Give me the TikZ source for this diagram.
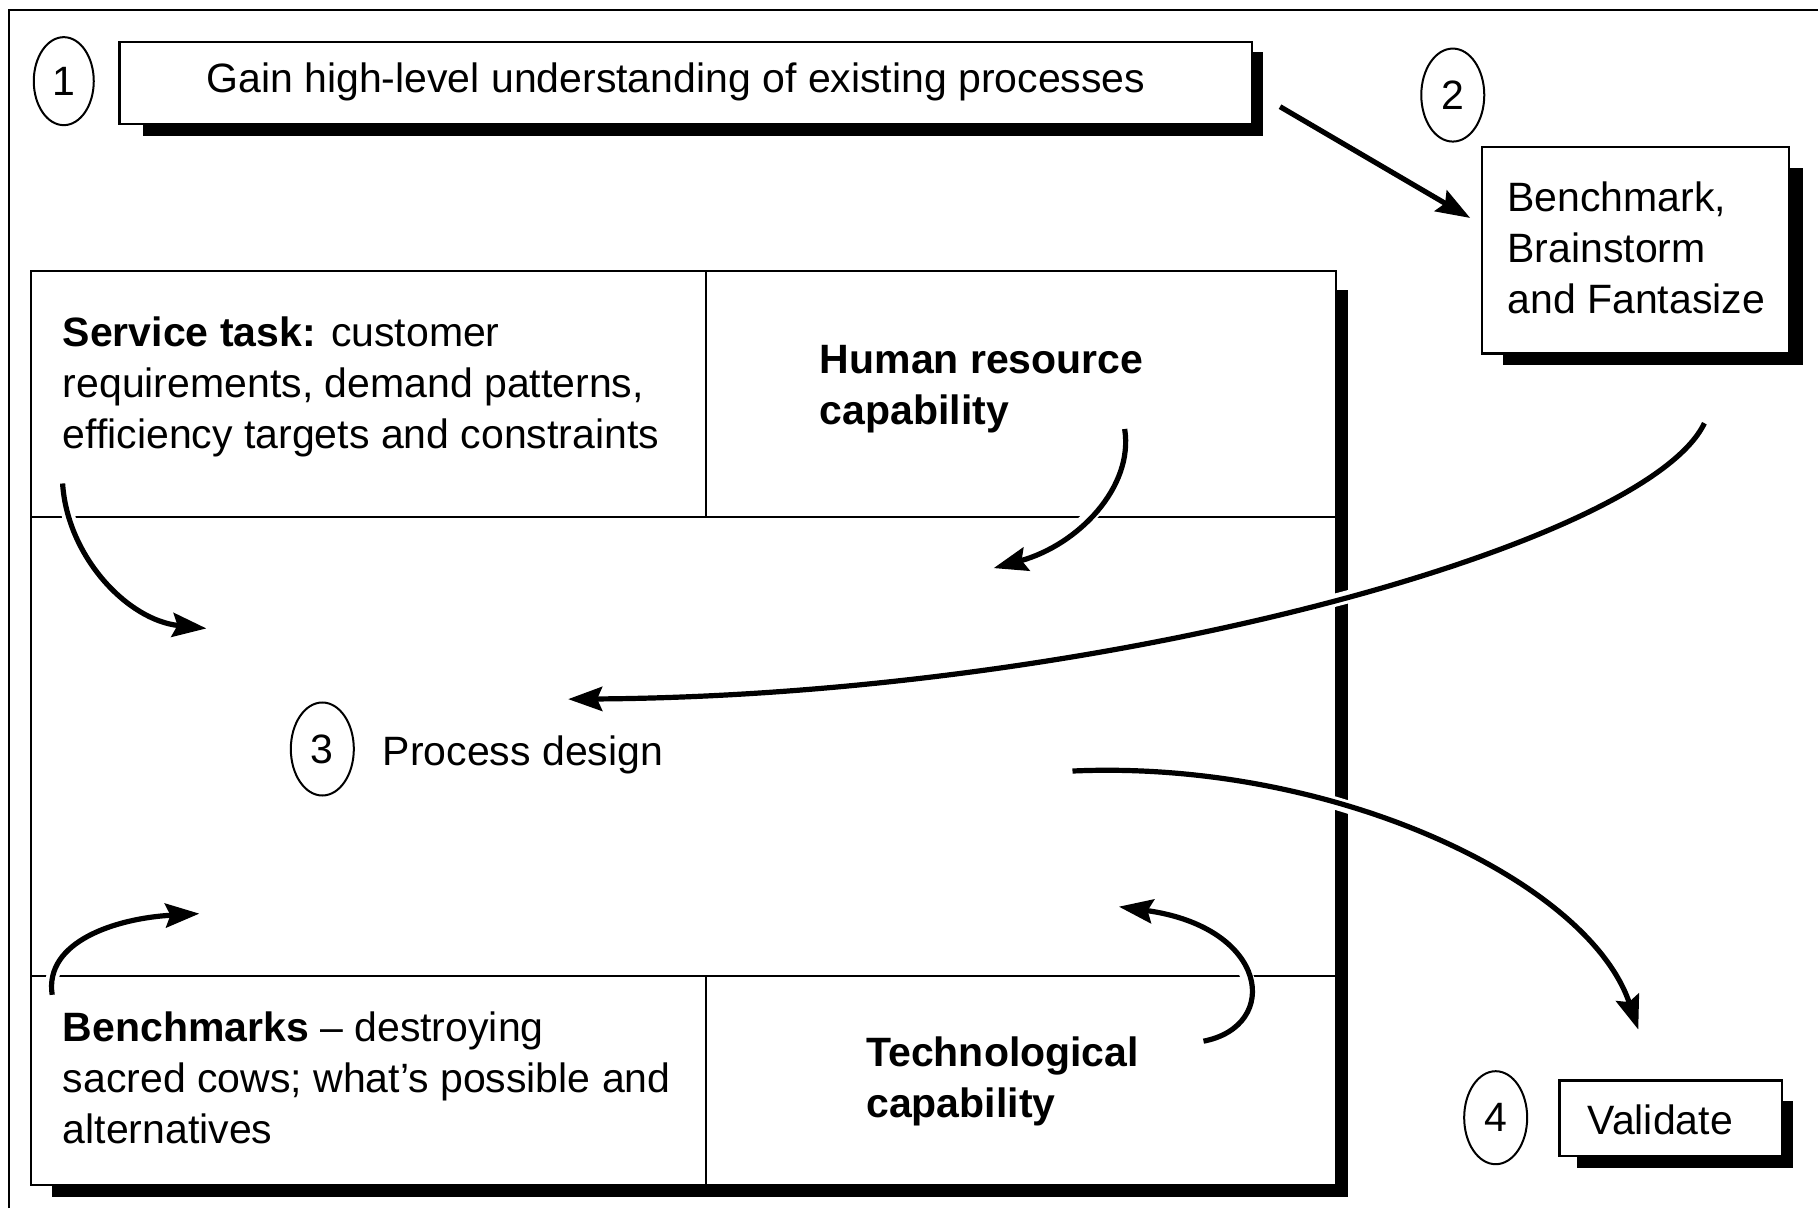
\documentclass[tikz,border=0pt]{standalone}
\usepackage{fontspec}
\setmainfont{Liberation Sans}
\usetikzlibrary{arrows.meta,shapes.geometric}

\begin{document}
\begin{tikzpicture}[x=1.1594pt,y=-1.1594pt,
  txt/.style={inner sep=0pt, anchor=base west, font=\fontsize{41}{51}\selectfont},
  ctxt/.style={inner sep=0pt, font=\fontsize{41}{51}\selectfont},
  num/.style={ellipse, draw, line width=2pt, minimum width=63pt, minimum height=93pt,
    inner sep=0pt, font=\fontsize{41}{51}\selectfont},
  frameline/.style={line width=2pt},
  shadowfill/.style={fill=black},
  boxline/.style={draw, fill=white, line width=2.4pt},
  cellline/.style={line width=1.8pt},
  flow/.style={line width=5.2pt, -{Stealth[length=34pt,width=24pt,inset=5pt]}},
  gapflow/.style={flow, preaction={draw=white, line width=13pt, -}},
]
\useasboundingbox (0,0) rectangle (1568,1042);

% outer frame
\draw[frameline] (8,1042) -- (8,9) -- (1568,9);

% step 1 box
\fill[shadowfill] (123,45) rectangle (1089,117);
\draw[boxline] (103,36) rectangle (1080,107);
\node[ctxt] (gain) at (583,71) {Gain high-level understanding of existing processes};
\node[num, minimum width=60pt, minimum height=88pt] (n1) at (55,70) {1};

% step 2 box
\fill[shadowfill] (1296,145) rectangle (1555,315);
\draw[boxline] (1278,127) rectangle (1543,305);
\node[txt] (bb1) at (1300,182) {Benchmark,};
\node[txt] (bb2) at (1300,226) {Brainstorm};
\node[txt] (bb3) at (1300,270) {and Fantasize};
\node[num] (n2) at (1253,82) {2};

% process design frame with its four corner cells
\fill[shadowfill] (45,250) rectangle (1163,1032);
\draw[fill=white, line width=2pt] (27,234) rectangle (1152,1022);
\draw[cellline] (27,446) -- (1152,446);
\draw[cellline] (27,842) -- (1152,842);
\draw[cellline] (609,234) -- (609,446);
\draw[cellline] (609,842) -- (609,1022);

\node[txt] (st1) at (54,299) {\bfseries Service task:\mdseries{} customer};
\node[txt] (st2) at (54,343) {requirements, demand patterns,};
\node[txt] (st3) at (54,387) {efficiency targets and constraints};

\node[txt] (hr1) at (707,322) {\bfseries Human resource};
\node[txt] (hr2) at (707,366) {\bfseries capability};

\node[txt] (bm1) at (54,898) {\bfseries Benchmarks\mdseries{} \textendash{} destroying};
\node[txt] (bm2) at (54,942) {sacred cows; what's possible and};
\node[txt] (bm3) at (54,986) {alternatives};

\node[txt] (tc1) at (747,920) {\bfseries Technological};
\node[txt] (tc2) at (747,964) {\bfseries capability};

\node[num] (n3) at (278,646) {3};
\node[txt] (pd) at (330,660) {Process design};

% step 4 box
\fill[shadowfill] (1360,950) rectangle (1546,1007);
\draw[boxline] (1345,932) rectangle (1537,997);
\node[ctxt] (val) at (1432,966) {Validate};
\node[num] (n4) at (1290,964) {4};

% arrow end points
\coordinate (s12) at (1104,92);   \coordinate (e12) at (1268,188);
\coordinate (sST) at (54,417);    \coordinate (eST) at (178,542);
\coordinate (sHR) at (970,370);   \coordinate (eHR) at (857,490);
\coordinate (sBB) at (1470,365);  \coordinate (eBB) at (490,603);
\coordinate (sPD) at (925,665);   \coordinate (ePD) at (1413,888);
\coordinate (sBM) at (45,858);    \coordinate (eBM) at (172,788);
\coordinate (sTC) at (1038,898);  \coordinate (eTC) at (965,782);

% arrows, each leaving a thin white gap where it crosses a line
\draw[flow] (s12) -- (e12);
\draw[gapflow] (sST) .. controls (58,480) and (110,535) .. (eST);
\draw[gapflow] (sHR) .. controls (978,420) and (930,470) .. (eHR);
\draw[gapflow] (sBB) .. controls (1420,470) and (950,600) .. (eBB);
\draw[gapflow] (sPD) .. controls (1150,655) and (1370,760) .. (ePD);
\draw[gapflow] (sBM) .. controls (38,812) and (100,792) .. (eBM);
\draw[gapflow] (sTC) .. controls (1105,885) and (1095,800) .. (eTC);
\end{tikzpicture}
\end{document}
